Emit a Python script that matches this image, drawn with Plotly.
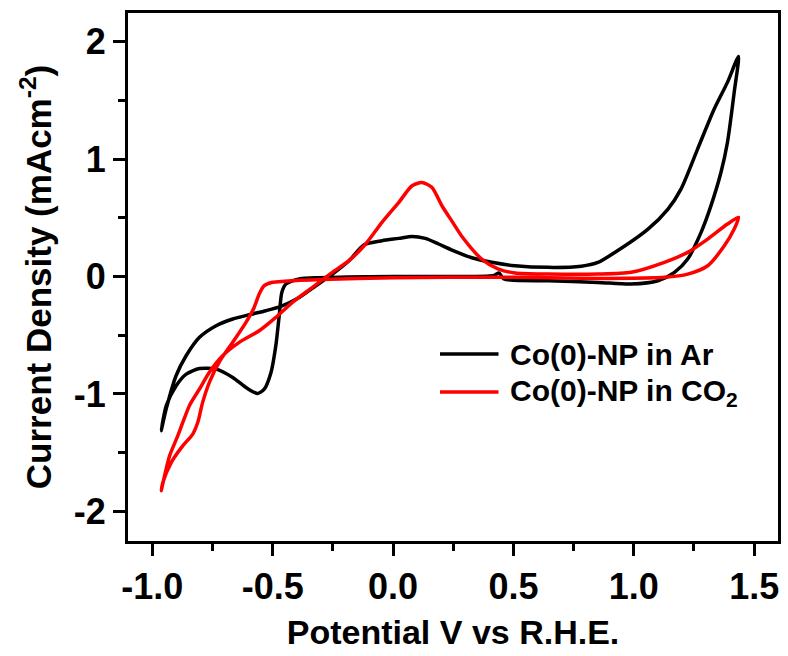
import plotly.graph_objects as go

# Cyclic voltammograms of Co(0) nanoparticles (potential vs R.H.E., current density)
ar_potential = [
    -0.963, -0.942, -0.901, -0.859, -0.804, -0.735, -0.666, -0.597, -0.528, -0.466,
    -0.390, -0.321, -0.252, -0.183, -0.120, -0.046, 0.024, 0.079, 0.134, 0.189,
    0.240, 0.327, 0.410, 0.507, 0.644, 0.782, 0.851, 0.921, 1.059, 1.142,
    1.196, 1.265, 1.334, 1.389, 1.435,
    1.417, 1.389, 1.362, 1.320, 1.279, 1.224, 1.169, 1.100, 0.989, 0.851,
    0.644, 0.460, 0.440, 0.420, 0.300, 0.000, -0.300, -0.390, -0.445, -0.462,
    -0.473, -0.487, -0.507, -0.535, -0.563, -0.611, -0.666, -0.735, -0.804, -0.859,
    -0.901, -0.942, -0.963,
]
ar_current = [
    -1.313, -1.125, -0.843, -0.673, -0.518, -0.419, -0.362, -0.325, -0.291, -0.254,
    -0.178, -0.079, 0.021, 0.135, 0.270, 0.305, 0.325, 0.342, 0.325, 0.277,
    0.230, 0.160, 0.121, 0.092, 0.078, 0.088, 0.120, 0.205, 0.404, 0.575,
    0.745, 1.086, 1.427, 1.654, 1.875,
    1.569, 1.142, 0.886, 0.600, 0.374, 0.149, 0.036, -0.036, -0.064, -0.050,
    -0.036, -0.020, 0.030, 0.010, 0.000, 0.000, -0.010, -0.021, -0.064, -0.135,
    -0.334, -0.590, -0.817, -0.959, -0.996, -0.945, -0.860, -0.789, -0.784, -0.831,
    -0.930, -1.100, -1.313,
]

co2_potential = [
    -0.963, -0.949, -0.928, -0.894, -0.846, -0.804, -0.763, -0.708, -0.639, -0.556,
    -0.487, -0.418, -0.335, -0.252, -0.183, -0.114, -0.046, 0.024, 0.079, 0.120,
    0.161, 0.203, 0.245, 0.290, 0.368, 0.438, 0.507, 0.644, 0.851, 0.989,
    1.127, 1.224, 1.307, 1.389, 1.435,
    1.417, 1.376, 1.307, 1.224, 1.127, 0.989, 0.782, 0.507, 0.231, 0.000,
    -0.300, -0.450, -0.501, -0.535, -0.556, -0.577, -0.611, -0.666, -0.721, -0.763,
    -0.791, -0.811, -0.832, -0.873, -0.921, -0.956, -0.963,
]
co2_current = [
    -1.824, -1.697, -1.526, -1.356, -1.100, -0.958, -0.816, -0.675, -0.561, -0.462,
    -0.348, -0.220, -0.092, 0.036, 0.135, 0.277, 0.462, 0.632, 0.773, 0.801,
    0.760, 0.603, 0.470, 0.330, 0.149, 0.064, 0.030, 0.021, 0.021, 0.036,
    0.121, 0.206, 0.319, 0.447, 0.504,
    0.405, 0.262, 0.092, 0.021, -0.007, -0.015, -0.015, -0.007, -0.007, -0.010,
    -0.025, -0.040, -0.049, -0.078, -0.149, -0.263, -0.390, -0.560, -0.725, -0.901,
    -1.072, -1.242, -1.342, -1.441, -1.583, -1.753, -1.824,
]

series_names = ["Co(0)-NP in Ar", "Co(0)-NP in CO<sub>2</sub>"]
series_colors = ["#000000", "#ff0000"]

x_ticks = [-1.0, -0.5, 0.0, 0.5, 1.0, 1.5]
x_tick_text = ["-1.0", "-0.5", "0.0", "0.5", "1.0", "1.5"]
y_ticks = [-2, -1, 0, 1, 2]
y_tick_text = ["-2", "-1", "0", "1", "2"]

FONT = "Arial, Liberation Sans, DejaVu Sans, sans-serif"

fig = go.Figure()
for xs, ys, name, color in [
    (ar_potential, ar_current, series_names[0], series_colors[0]),
    (co2_potential, co2_current, series_names[1], series_colors[1]),
]:
    fig.add_trace(go.Scatter(
        x=xs, y=ys, mode="lines", name=name, showlegend=False,
        line=dict(color=color, width=3.5, shape="spline", smoothing=0.7),
    ))

# Hand-placed key inside the plot area
key_rows = [0.354, 0.282]
for yk, name, color in zip(key_rows, series_names, series_colors):
    fig.add_shape(type="line", xref="paper", yref="paper",
                  x0=0.480, x1=0.570, y0=yk, y1=yk,
                  line=dict(color=color, width=3.5))
    fig.add_annotation(xref="paper", yref="paper", x=0.584, y=yk,
                       text=name, showarrow=False, xanchor="left", yanchor="middle",
                       font=dict(family=FONT, size=30, color="black", weight="bold"))

axis_common = dict(
    showline=True, linecolor="black", linewidth=3, mirror=True,
    ticks="outside", ticklen=12, tickwidth=3, tickcolor="black",
    showgrid=False, zeroline=False,
    tickfont=dict(family=FONT, size=36, color="black", weight="bold"),
)

fig.update_xaxes(
    range=[-1.101, 1.599], tickvals=x_ticks, ticktext=x_tick_text,
    minor=dict(dtick=0.25, tick0=0, ticks="outside", ticklen=7, tickwidth=3, tickcolor="black"),
    title=dict(text="Potential V vs R.H.E.", standoff=14,
               font=dict(family=FONT, size=34, color="black", weight="bold")),
    **axis_common,
)
fig.update_yaxes(
    range=[-2.253, 2.245], tickvals=y_ticks, ticktext=y_tick_text,
    minor=dict(dtick=0.5, tick0=0, ticks="outside", ticklen=7, tickwidth=3, tickcolor="black"),
    title=dict(text="Current Density (mAcm<sup>-2</sup>)", standoff=12,
               font=dict(family=FONT, size=35, color="black", weight="bold")),
    **axis_common,
)

fig.update_layout(
    width=788, height=656,
    margin=dict(l=128, r=7, t=13, b=115),
    plot_bgcolor="white", paper_bgcolor="white",
)

fig.write_html("out.html")
